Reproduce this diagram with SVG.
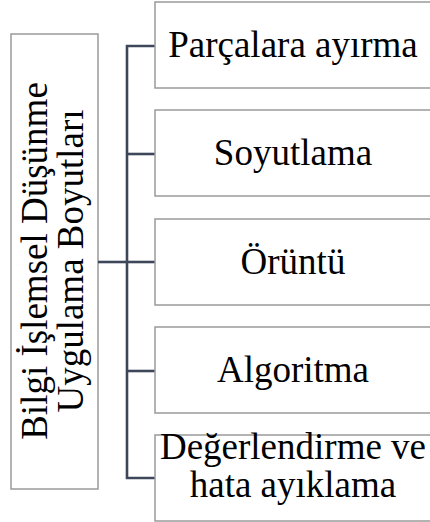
<svg xmlns="http://www.w3.org/2000/svg" width="430" height="522" viewBox="0 0 430 522">
  <style>
    .box { fill: #ffffff; stroke: #9a9a9a; stroke-width: 1.5; }
    .lbl { font-family: "Liberation Serif", "Times New Roman", serif; font-size: 37px; fill: #000000; text-anchor: middle; }
    .conn { fill: none; stroke: #3d4759; stroke-width: 2.6; }
  </style>
  <rect width="430" height="522" fill="#ffffff"/>

  <!-- root node -->
  <g id="root">
    <rect class="box" x="11" y="34" width="87" height="455"/>
    <g transform="translate(54.5,261) rotate(-90)">
      <text class="lbl" x="0" y="-7.5">Bilgi İşlemsel Düşünme</text>
      <text class="lbl" x="0" y="28.5">Uygulama Boyutları</text>
    </g>
  </g>

  <!-- connectors -->
  <g id="connectors">
    <path class="conn" d="M98 262 H127"/>
    <path class="conn" d="M155 46 H127 V478 H155"/>
    <path class="conn" d="M127 154 H155"/>
    <path class="conn" d="M127 262 H155"/>
    <path class="conn" d="M127 371 H155"/>
  </g>

  <!-- child nodes -->
  <g id="n1">
    <rect class="box" x="155" y="2" width="277" height="86"/>
    <text class="lbl" x="293" y="57">Parçalara ayırma</text>
  </g>
  <g id="n2">
    <rect class="box" x="155" y="110" width="277" height="86"/>
    <text class="lbl" x="293" y="165">Soyutlama</text>
  </g>
  <g id="n3">
    <rect class="box" x="155" y="219" width="277" height="86"/>
    <text class="lbl" x="293" y="274">Örüntü</text>
  </g>
  <g id="n4">
    <rect class="box" x="155" y="327" width="277" height="86"/>
    <text class="lbl" x="293" y="382">Algoritma</text>
  </g>
  <g id="n5">
    <rect class="box" x="155" y="435" width="277" height="86"/>
    <text class="lbl" x="293" y="459">Değerlendirme ve</text>
    <text class="lbl" x="293" y="497">hata ayıklama</text>
  </g>
</svg>
